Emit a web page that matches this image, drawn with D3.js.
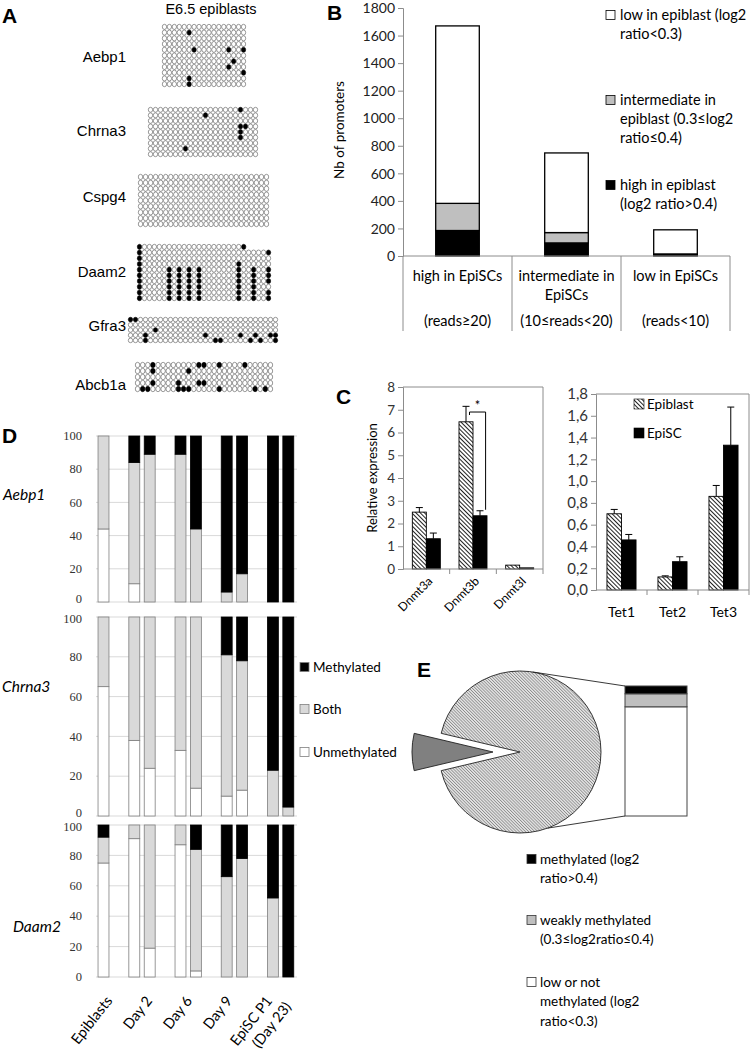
<!DOCTYPE html>
<html><head><meta charset="utf-8">
<script src="https://cdn.jsdelivr.net/npm/d3@7"></script>
<style>body{margin:0;background:#fff} svg{display:block}</style>
</head><body><svg id="c" width="750" height="1050"></svg>
<script>
// ================= DATA =================
// Panel A : bisulfite clones ('.' = unmethylated CpG, 'x' = methylated CpG)
const gridNames = ["Aebp1","Chrna3","Cspg4","Daam2","Gfra3","Abcb1a"];
const gridAebp1 = [
".................",
".....x...........",
".................",
".................",
"......x......x..x",
".................",
"..............x..",
".............x...",
"................x",
".....x...........",
".....x..........."];
const gridChrna3 = [
"..................x...",
"...........x..........",
"......................",
"..................xx..",
"..................x...",
"..................x...",
"......................",
".......x..............",
"......................"];
const gridCspg4 = [
"..........................",
"..........................",
"..........................",
"..........................",
"..........................",
"..........................",
"..........................",
"..........................",
".........................."];
const gridDaam2 = [
"x....................x",
"x.........................x",
"x..........................",
"x...................x......",
"x.....x.x.x.x.......x..x..x",
"x.....x.x.x.x.......x..x..x",
"x.....x.x.x.x.......x..x..x",
"x.....x.x.x.x.......x..x...",
"x.....x.x.x.x.......x..x..x",
"x.....x.x.x.x.......x..x..x"];
const gridGfra3 = [
"xx............................",
"..............................",
".....x........................",
"...x...........x......x..x..xx",
"...x.............xx.....x.x..x"];
const gridAbcb1a = [
"...x........xx..x....x.....",
"...x......x................",
"...........................",
"...x....x...xx.............",
".xx.....xxx.....x......x.x."];

// Panel B
const bCategories = ["high in EpiSCs","intermediate in EpiSCs","low in EpiSCs"];
const bCatLines = [["high in EpiSCs"],["intermediate in","EpiSCs"],["low in EpiSCs"]];
const bReads = ["(reads\u226520)","(10\u2264reads<20)","(reads<10)"];
const bHigh  = [185, 95, 12];
const bInter = [197, 75, 3];
const bLow   = [1288, 578, 175];
const bTicks = [0,200,400,600,800,1000,1200,1400,1600,1800];
const bLegend = [
  ["low in epiblast (log2","ratio<0.3)"],
  ["intermediate in","epiblast (0.3\u2264log2","ratio\u22640.4)"],
  ["high in epiblast","(log2 ratio>0.4)"]];

// Panel C
const cGenesL = ["Dnmt3a","Dnmt3b","Dnmt3l"];
const cEpiL    = [2.50, 6.47, 0.17];
const cEpiLErr = [0.20, 0.68, 0.00];
const cEscL    = [1.33, 2.34, 0.05];
const cEscLErr = [0.25, 0.22, 0.00];
const cTicksL  = [0,1,2,3,4,5,6,7,8];
const cGenesR = ["Tet1","Tet2","Tet3"];
const cEpiR    = [0.70, 0.12, 0.86];
const cEpiRErr = [0.04, 0.01, 0.10];
const cEscR    = [0.46, 0.26, 1.33];
const cEscRErr = [0.05, 0.045, 0.35];
const cTicksR  = [0,0.2,0.4,0.6,0.8,1.0,1.2,1.4,1.6,1.8];
const cSeries = ["Epiblast","EpiSC"];

// Panel D (percent of clones)
const dGroups = ["Epiblasts","Day 2","Day 6","Day 9","EpiSC P1\n(Day 23)"];
const dGroupSizes = [1,2,2,2,2];
const dGenes = ["Aebp1","Chrna3","Daam2"];
const dUnmeth = [
  [44, 11, 0, 0, 0, 0, 0, 0, 0],
  [65, 38, 24, 33, 14, 10, 13, 0, 0],
  [75, 91, 19, 87, 4, 0, 0, 0, 0]];
const dBoth = [
  [56, 73, 89, 89, 44, 6, 17, 0, 0],
  [35, 62, 76, 67, 86, 71, 65, 23, 4.5],
  [17, 9, 81, 13, 80, 66, 78, 52, 0]];
const dMeth = [
  [0, 16, 11, 11, 56, 94, 83, 100, 100],
  [0, 0, 0, 0, 0, 19, 22, 77, 95.5],
  [8, 0, 0, 0, 16, 34, 22, 48, 100]];
const dTicks = [0,20,40,60,80,100];
const dLegend = ["Methylated","Both","Unmethylated"];

// Panel E
const ePie = [7.4, 92.6];             // exploded slice, main slice
const eBar = [84, 10, 6];             // low / weak / methylated (%)
const eLegend = [
  ["methylated (log2","ratio>0.4)"],
  ["weakly methylated","(0.3\u2264log2ratio\u22640.4)"],
  ["low or not","methylated (log2","ratio<0.3)"]];

// ================= DRAWING =================
const svg = d3.select("#c");
const SANS = "Lato, 'Open Sans', sans-serif";
const ARIAL = "'Liberation Sans', Arial, sans-serif";
const SERIF = "'Liberation Serif', 'DejaVu Serif', serif";
const GRAYAX = "#8c8c8c";

const defs = svg.append("defs");
const pc = defs.append("pattern").attr("id","hatchC").attr("patternUnits","userSpaceOnUse")
  .attr("width",3).attr("height",3).attr("patternTransform","rotate(-45)");
pc.append("rect").attr("width",3).attr("height",3).attr("fill","#fff");
pc.append("line").attr("x1",0.5).attr("y1",0).attr("x2",0.5).attr("y2",3).attr("stroke","#222").attr("stroke-width",1);
const pe = defs.append("pattern").attr("id","hatchE").attr("patternUnits","userSpaceOnUse")
  .attr("width",2.2).attr("height",2.2).attr("patternTransform","rotate(-45)");
pe.append("rect").attr("width",2.2).attr("height",2.2).attr("fill","#e4e4e4");
pe.append("line").attr("x1",0.4).attr("y1",0).attr("x2",0.4).attr("y2",2.2).attr("stroke","#8a8a8a").attr("stroke-width",0.8);

function letter(t,x,y){ svg.append("text").attr("x",x).attr("y",y).text(t)
  .attr("font-family",ARIAL).attr("font-weight","bold").attr("font-size",21); }

// ---------- Panel A ----------
letter("A",2,23);
svg.append("text").attr("x",211).attr("y",14).attr("text-anchor","middle")
  .attr("font-family",ARIAL).attr("font-size",14.5).text("E6.5 epiblasts");
const gridData = [gridAebp1,gridChrna3,gridCspg4,gridDaam2,gridGfra3,gridAbcb1a];
const gridBoxes = [[162,246,24,87],[148,258,107,157],[138,269,174,227],[137,271,244,301],[128,278,317,343],[135,273,362,392]];
const gridLabelY = [57,131,197,272,326,385];
const gA = svg.append("g");
gridData.forEach((rows,i)=>{
  const [x0,x1,y0,y1] = gridBoxes[i];
  const nCols = d3.max(rows, r=>r.length);
  const cx = d3.scaleBand().domain(d3.range(nCols)).range([x0,x1]);
  const cy = d3.scaleBand().domain(d3.range(rows.length)).range([y0,y1]);
  const cells = rows.flatMap((r,ri)=>r.split("").map((ch,ci)=>({ri,ci,m:ch==="x"})));
  gA.append("g").selectAll("ellipse").data(cells).join("ellipse")
    .attr("cx",d=>cx(d.ci)+cx.bandwidth()/2).attr("cy",d=>cy(d.ri)+cy.bandwidth()/2)
    .attr("rx",cx.bandwidth()/2-0.3).attr("ry",cy.bandwidth()/2-0.3)
    .attr("fill",d=>d.m?"#000":"#fff").attr("stroke",d=>d.m?"#000":"#555").attr("stroke-width",0.6);
  gA.append("text").attr("x",126).attr("y",gridLabelY[i]).attr("dy","0.35em").attr("text-anchor","end")
    .attr("font-family",ARIAL).attr("font-size",15).text(gridNames[i]);
});

// ---------- Panel B ----------
letter("B",327,20);
const bY = d3.scaleLinear().domain([0,1800]).range([256,8]);
const bX = d3.scaleBand().domain(bCategories).range([403,730]).paddingInner(0.6).paddingOuter(0.3);
const gB = svg.append("g");
const bRows = bCategories.map((c,i)=>({cat:c, high:bHigh[i], inter:bInter[i], low:bLow[i]}));
const bStack = d3.stack().keys(["high","inter","low"])(bRows);
const bFill = {high:"#000", inter:"#bfbfbf", low:"#fff"};
bStack.forEach(layer=>{
  gB.append("g").selectAll("rect").data(layer).join("rect")
    .attr("x",d=>bX(d.data.cat)).attr("width",bX.bandwidth())
    .attr("y",d=>bY(d[1])).attr("height",d=>bY(d[0])-bY(d[1]))
    .attr("fill",bFill[layer.key]).attr("stroke","#000").attr("stroke-width",1.3);
});
const bAx = gB.append("g").attr("transform","translate(403,0)")
  .call(d3.axisLeft(bY).tickValues(bTicks).tickSize(5).tickFormat(d3.format("d")));
bAx.selectAll("text").attr("font-family",SANS).attr("font-size",14).attr("fill","#222").attr("x",-8).attr("dy","0.34em");
bAx.selectAll("line,path").attr("stroke",GRAYAX);
gB.append("line").attr("x1",403).attr("x2",730).attr("y1",256).attr("y2",256).attr("stroke",GRAYAX);
const bSep = bCategories.map(c=>bX(c)-bX.step()*bX.paddingOuter()).concat([730]);
gB.selectAll(".sep").data(bSep).join("line").attr("x1",d=>d).attr("x2",d=>d).attr("y1",256).attr("y2",331).attr("stroke",GRAYAX);
bCategories.forEach((c,i)=>{
  const cx = bX(c)+bX.bandwidth()/2;
  bCatLines[i].forEach((t,j)=>gB.append("text").attr("x",cx).attr("y",276+j*19).attr("dy","0.35em")
    .attr("text-anchor","middle").attr("font-family",SANS).attr("font-size",14.5).text(t));
  gB.append("text").attr("x",cx).attr("y",321).attr("dy","0.35em").attr("text-anchor","middle")
    .attr("font-family",SANS).attr("font-size",14.5).text(bReads[i]);
});
gB.append("text").attr("transform","translate(344,130) rotate(-90)").attr("text-anchor","middle")
  .attr("font-family",SANS).attr("font-size",13.5).text("Nb of promoters");
const bLegY = [15,100,185];
const bLegFill = ["#fff","#bfbfbf","#000"];
bLegend.forEach((lines,i)=>{
  gB.append("rect").attr("x",606).attr("y",bLegY[i]-4.5).attr("width",9).attr("height",9)
    .attr("fill",bLegFill[i]).attr("stroke","#000").attr("stroke-width",0.8);
  lines.forEach((t,j)=>gB.append("text").attr("x",620).attr("y",bLegY[i]+j*19).attr("dy","0.35em")
    .attr("font-family",SANS).attr("font-size",14.5).text(t));
});

// ---------- Panel C ----------
letter("C",336,404);
function barPanel(g, genes, epi, epiErr, esc, escErr, ticks, yDom, yRange, xRange, pIn, pOut, fmt, tickFont){
  const y = d3.scaleLinear().domain(yDom).range(yRange);
  const x = d3.scaleBand().domain(genes).range(xRange).paddingInner(pIn).paddingOuter(pOut);
  const x1 = d3.scaleBand().domain(cSeries).range([0,x.bandwidth()]);
  g.append("path").attr("d",`M${xRange[0]},${y(yDom[1])}H${xRange[1]}V${y(0)}`).attr("fill","none").attr("stroke",GRAYAX);
  const rows = genes.map((gname,i)=>[
    {gname, s:"Epiblast", v:epi[i], e:epiErr[i]},
    {gname, s:"EpiSC", v:esc[i], e:escErr[i]}]).flat();
  g.append("g").selectAll("rect").data(rows).join("rect")
    .attr("x",d=>x(d.gname)+x1(d.s)).attr("width",x1.bandwidth())
    .attr("y",d=>y(d.v)).attr("height",d=>y(0)-y(d.v))
    .attr("fill",d=>d.s==="Epiblast"?"url(#hatchC)":"#000").attr("stroke","#000").attr("stroke-width",0.9);
  const eb = rows.filter(d=>d.e>0);
  const ecx = d=>x(d.gname)+x1(d.s)+x1.bandwidth()/2;
  g.append("g").selectAll("path").data(eb).join("path")
    .attr("d",d=>`M${ecx(d)},${y(d.v)}V${y(d.v+d.e)}M${ecx(d)-3.5},${y(d.v+d.e)}H${ecx(d)+3.5}`)
    .attr("stroke","#000").attr("stroke-width",1).attr("fill","none");
  const ax = g.append("g").attr("transform",`translate(${xRange[0]},0)`)
    .call(d3.axisLeft(y).tickValues(ticks).tickSize(5).tickFormat(fmt));
  ax.selectAll("text").attr("font-family",SANS).attr("font-size",tickFont).attr("fill","#333").attr("x",-8);
  ax.selectAll("line,path").attr("stroke",GRAYAX);
  g.append("line").attr("x1",xRange[0]).attr("x2",xRange[1]).attr("y1",y(0)).attr("y2",y(0)).attr("stroke",GRAYAX);
  g.selectAll(".xt").data(genes.map(gn=>x(gn)-x.step()*x.paddingInner()/2).slice(1).concat([xRange[1]]))
    .join("line").attr("x1",d=>d).attr("x2",d=>d).attr("y1",y(0)).attr("y2",y(0)+5).attr("stroke",GRAYAX);
  return {x,x1,y};
}
const gCL = svg.append("g");
const cl = barPanel(gCL, cGenesL, cEpiL, cEpiLErr, cEscL, cEscLErr, cTicksL, [0,8], [569,387], [403,543], 0.4, 0.2, d3.format("d"), 13.5);
cGenesL.forEach(gn=>{
  const cx = cl.x(gn)+cl.x.bandwidth()/2;
  gCL.append("text").attr("transform",`translate(${cx+4},579) rotate(-45)`).attr("text-anchor","end")
    .attr("dy","0.35em").attr("font-family",SANS).attr("font-size",12).text(gn);
});
gCL.append("text").attr("transform","translate(377,478) rotate(-90)").attr("text-anchor","middle")
  .attr("font-family",SANS).attr("font-size",13).text("Relative expression");
{
  const gx = cl.x("Dnmt3b");
  const xa = gx + cl.x1("Epiblast") + cl.x1.bandwidth()*0.75;
  const xb = gx + cl.x1("EpiSC") + cl.x1.bandwidth()*0.9;
  const yt = cl.y(6.9);
  gCL.append("path").attr("d",`M${xa},${yt+3}V${yt}H${xb}V${cl.y(cEscL[1]+cEscLErr[1])-1}`)
    .attr("fill","none").attr("stroke","#000").attr("stroke-width",1);
  gCL.append("text").attr("x",(xa+xb)/2).attr("y",yt-2).attr("text-anchor","middle")
    .attr("font-family",SANS).attr("font-size",13).text("*");
}
const gCR = svg.append("g");
const cr = barPanel(gCR, cGenesR, cEpiR, cEpiRErr, cEscR, cEscRErr, cTicksR, [0,1.8], [590,394], [596,749], 0.43, 0.215, d=>d3.format(".1f")(d).replace(".",","), 15);
cGenesR.forEach(gn=>{
  gCR.append("text").attr("x",cr.x(gn)+cr.x.bandwidth()/2).attr("y",612).attr("dy","0.35em")
    .attr("text-anchor","middle").attr("font-family",SANS).attr("font-size",14).text(gn);
});
[["url(#hatchC)",404],["#000",433]].forEach(([f,yy],i)=>{
  gCR.append("rect").attr("x",634).attr("y",yy-5).attr("width",10).attr("height",10).attr("fill",f).attr("stroke","#000").attr("stroke-width",0.6);
  gCR.append("text").attr("x",647).attr("y",yy).attr("dy","0.35em").attr("font-family",SANS).attr("font-size",13.5).text(cSeries[i]);
});

// ---------- Panel D ----------
letter("D",2,443);
const dSlots = [];
{ let s=0; dGroupSizes.forEach((n,gi)=>{ for(let k=0;k<n;k++){ dSlots.push({g:gi,slot:s}); s++; } s++; }); }
const nSlots = d3.max(dSlots,d=>d.slot)+1;
const dX = d3.scaleBand().domain(d3.range(nSlots)).range([95.8,296]).paddingInner(0.29).paddingOuter(0.145);
const dYRanges = [[602,436],[816,617],[977,825]];
const dLabelPos = [[3,495],[2,687],[13,927]];
const gD = svg.append("g");
dGenes.forEach((gene,gi)=>{
  const y = d3.scaleLinear().domain([0,100]).range(dYRanges[gi]);
  const gg = gD.append("g");
  gg.selectAll(".grid").data(dTicks).join("line").attr("x1",96).attr("x2",297)
    .attr("y1",d=>y(d)).attr("y2",d=>y(d)).attr("stroke","#d9d9d9").attr("stroke-width",1);
  // nudge the touching 0 / 100 labels of stacked sub-charts apart slightly
  const nudge = d => (d===0 && gi<2) ? -3 : (d===100 && gi>0) ? 1.5 : 0;
  gg.selectAll(".tk").data(dTicks).join("text").attr("x",82).attr("y",d=>y(d)+nudge(d)).attr("dy","0.33em")
    .attr("text-anchor","end").attr("font-family",SERIF).attr("font-size",12.5).attr("fill","#333").text(d=>d);
  const rows = dSlots.map((s,i)=>({slot:s.slot, U:dUnmeth[gi][i], B:dBoth[gi][i], M:dMeth[gi][i]}));
  const st = d3.stack().keys(["U","B","M"])(rows);
  const fills = {U:"#fff",B:"#d9d9d9",M:"#000"};
  st.forEach(layer=>{
    gg.append("g").selectAll("rect").data(layer.filter(d=>d[1]-d[0]>0)).join("rect")
      .attr("x",d=>dX(d.data.slot)).attr("width",dX.bandwidth())
      .attr("y",d=>y(d[1])).attr("height",d=>y(d[0])-y(d[1]))
      .attr("fill",fills[layer.key]).attr("stroke",layer.key==="M"?"#000":"#7f7f7f").attr("stroke-width",0.8);
  });
  gg.append("text").attr("x",dLabelPos[gi][0]).attr("y",dLabelPos[gi][1]).attr("dy","0.35em")
    .attr("font-family",SANS).attr("font-style","italic").attr("font-size",15.5).text(gene);
});
const dLab = d3.scaleBand().domain(dGroups).range([96,296]);
dGroups.forEach(gname=>{
  const cx = dLab(gname)+dLab.bandwidth()/2;
  gname.split("\n").forEach((t,j)=>{
    gD.append("text").attr("transform",`translate(${cx-3+j*19},${1001+j*6}) rotate(-52)`)
      .attr("text-anchor","end").attr("font-family",SANS).attr("font-size",14.5).text(t);
  });
});
const dLegY = [667,709,752];
const dLegFill = ["#000","#d9d9d9","#fff"];
dLegend.forEach((t,i)=>{
  gD.append("rect").attr("x",300).attr("y",dLegY[i]-4.5).attr("width",9).attr("height",9)
    .attr("fill",dLegFill[i]).attr("stroke","#7f7f7f").attr("stroke-width",0.8);
  gD.append("text").attr("x",313).attr("y",dLegY[i]).attr("dy","0.35em").attr("font-family",SANS).attr("font-size",13.5).text(t);
});

// ---------- Panel E ----------
letter("E",417,677);
const gE = svg.append("g");
const pcx = 520, pcy = 752, pr = 81;
const smallAng = ePie[0]/d3.sum(ePie)*2*Math.PI;
const pie = d3.pie().sort(null).startAngle(1.5*Math.PI - smallAng/2).endAngle(3.5*Math.PI - smallAng/2);
const arcs = pie(ePie);
const arc = d3.arc().innerRadius(0).outerRadius(pr);
arcs.forEach((a,i)=>{
  const mid = (a.startAngle+a.endAngle)/2;
  const off = i===0 ? 27 : 0;
  const tx = pcx + off*Math.sin(mid), ty = pcy - off*Math.cos(mid);
  gE.append("path").attr("transform",`translate(${tx},${ty})`).attr("d",arc(a))
    .attr("fill", i===0 ? "#808080" : "url(#hatchE)").attr("stroke","#222").attr("stroke-width",0.9);
});
const ebX0 = 625, ebX1 = 687;
const ebY = d3.scaleLinear().domain([0,100]).range([816,686]);
const ebStack = d3.stack().keys([0,1,2])([eBar]);
const ebFill = ["#fff","#bfbfbf","#000"];
ebStack.forEach((layer,i)=>{
  gE.append("rect").attr("x",ebX0).attr("width",ebX1-ebX0)
    .attr("y",ebY(layer[0][1])).attr("height",ebY(layer[0][0])-ebY(layer[0][1]))
    .attr("fill",ebFill[i]).attr("stroke","#444").attr("stroke-width",1);
});
const aTop = 9*Math.PI/180, aBot = 160*Math.PI/180;
gE.append("line").attr("x1",pcx+pr*Math.sin(aTop)).attr("y1",pcy-pr*Math.cos(aTop)).attr("x2",ebX0).attr("y2",ebY(100)).attr("stroke","#222").attr("stroke-width",0.9);
gE.append("line").attr("x1",pcx+pr*Math.sin(aBot)).attr("y1",pcy-pr*Math.cos(aBot)).attr("x2",ebX0).attr("y2",ebY(0)).attr("stroke","#222").attr("stroke-width",0.9);
const eLegY = [859,920,982];
const eLegFill = ["#000","#bfbfbf","#fff"];
eLegend.forEach((lines,i)=>{
  gE.append("rect").attr("x",527).attr("y",eLegY[i]-4.5).attr("width",9).attr("height",9)
    .attr("fill",eLegFill[i]).attr("stroke","#333").attr("stroke-width",0.8);
  lines.forEach((t,j)=>gE.append("text").attr("x",540).attr("y",eLegY[i]+j*19.5).attr("dy","0.35em")
    .attr("font-family",SANS).attr("font-size",13.5).text(t));
});
</script></body></html>
